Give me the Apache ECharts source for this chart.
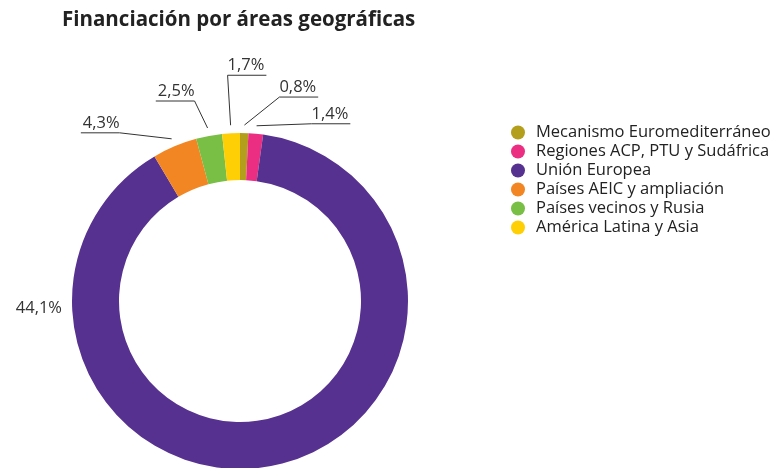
<!DOCTYPE html>
<html lang="es">
<head>
<meta charset="UTF-8">
<title>Financiación por áreas geográficas</title>
<style>html,body{margin:0;padding:0;background:#fff}</style>
</head>
<body>
<div id="main" style="width:778px;height:468px"></div>
<script src="https://cdn.jsdelivr.net/npm/echarts@6/dist/echarts.min.js"></script>
<script>
const areas = [
    'Mecanismo Euromediterráneo',
    'Regiones ACP, PTU y Sudáfrica',
    'Unión Europea',
    'Países AEIC y ampliación',
    'Países vecinos y Rusia',
    'América Latina y Asia'
];
// percentages printed next to the ring
const shares = [0.8, 1.4, 44.1, 4.3, 2.5, 1.7];
// arc size as drawn, out of 100 (the EU arc fills the rest of the ring)
const arcSizes = [0.8, 1.4, 89.3, 4.3, 2.5, 1.7];
const colors = ['#b49f1c', '#ec2e82', '#56318f', '#f28622', '#79be45', '#ffcf05'];

const center = [240, 301];
const radius = [121, 168];
// leader per label: elbow offset from the line start, direction of the underline
const leaders = [
    [35, -28, 1],
    [55, -2, 1],
    null,
    [-52, -6, -1],
    [-13, -27, -1],
    [-3, -50, 1]
];

const total = arcSizes.reduce((a, b) => a + b, 0);
const midAngles = [];
let acc = 0;
arcSizes.forEach(v => {
    midAngles.push((acc + v / 2) / total * 2 * Math.PI);
    acc += v;
});

function fmt(v) {
    return v.toFixed(1).replace('.', ',') + '%';
}

const chart = echarts.init(document.getElementById('main'));

const font = '"Open Sans", sans-serif';

option = {
    animation: false,
    title: {
        text: 'Financiación por áreas geográficas',
        left: 62,
        top: 10,
        padding: 0,
        textStyle: {
            fontFamily: font,
            fontSize: 20.5,
            fontWeight: 'bold',
            color: '#222'
        }
    },
    legend: {
        orient: 'vertical',
        left: 511,
        top: 123,
        padding: 0,
        icon: 'circle',
        itemWidth: 26,
        itemHeight: 14,
        itemGap: 0,
        textStyle: {
            fontFamily: font,
            fontSize: 16.5,
            lineHeight: 19,
            color: '#222'
        }
    },
    series: [{
        type: 'pie',
        center: center,
        radius: radius,
        startAngle: 90,
        avoidLabelOverlap: false,
        data: areas.map((name, i) => ({
            name: name,
            value: arcSizes[i],
            itemStyle: { color: colors[i] },
            labelLine: { show: !!leaders[i] }
        })),
        label: {
            position: 'outside',
            fontFamily: font,
            fontSize: 16.5,
            color: '#333',
            formatter: p => fmt(shares[p.dataIndex])
        },
        labelLine: {
            length: 10,
            length2: 10,
            lineStyle: { color: '#333', width: 1 }
        },
        labelLayout: params => {
            const i = params.dataIndex;
            const lw = params.labelRect.width;
            const ld = leaders[i];
            if (!ld) {
                return {
                    x: center[0] - radius[1] - 10,
                    y: center[1] + 7,
                    align: 'right',
                    verticalAlign: 'middle'
                };
            }
            const r = radius[1] + 8;
            const sx = center[0] + r * Math.sin(midAngles[i]);
            const sy = center[1] - r * Math.cos(midAngles[i]);
            const ex = sx + ld[0];
            const ey = sy + ld[1];
            return {
                x: ex,
                y: ey - 1,
                align: ld[2] > 0 ? 'left' : 'right',
                verticalAlign: 'bottom',
                labelLinePoints: [[sx, sy], [ex, ey], [ex + ld[2] * (lw + 2), ey]]
            };
        }
    }]
};

chart.setOption(option);
</script>
</body>
</html>
